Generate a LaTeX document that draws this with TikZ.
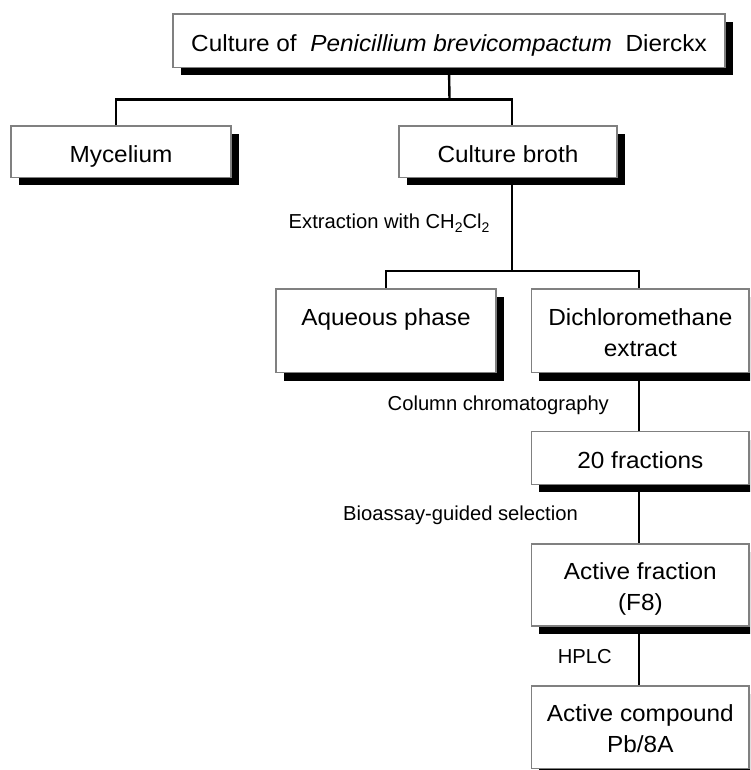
\documentclass[tikz,border=0pt]{standalone}
\usepackage{fontspec}
\setmainfont{Liberation Sans}
\usetikzlibrary{shadows,backgrounds}
\newfontfamily\boxfont[FakeStretch=1.045]{Liberation Sans}
\newcommand{\subtwo}{\raisebox{-4.5pt}{\fontsize{14}{14}\selectfont 2}}
\tikzset{
  box/.style={draw=black!50, line width=1.4pt, fill=white, inner sep=0pt,
    align=center, font=\boxfont\fontsize{23.3}{30.5}\selectfont,
    text height=20.6pt, text depth=0pt,
    drop shadow={shadow xshift=7.5pt, shadow yshift=-7.8pt, fill=black, opacity=1}},
  twoline/.style={text height=50.6pt, text depth=0pt},
  lbl/.style={inner sep=0pt, font=\fontsize{20.2}{24}\selectfont},
  conn/.style={draw=black, line width=2.4pt}
}
\begin{document}
\begin{tikzpicture}[x=1pt,y=-1pt]
\useasboundingbox (0,0) rectangle (750,770);
\clip (0,0) rectangle (750,770);
\node[box, minimum width=552pt, minimum height=53.5pt] (top) at (449,40.75)
  {Culture of \ \textit{Penicillium brevicompactum}\ \ Dierckx};
\node[box, minimum width=220pt, minimum height=51.5pt] (myc) at (121,151.75) {Mycelium};
\node[box, minimum width=218pt, minimum height=51.5pt] (broth) at (508,151.75) {Culture broth};
\node[box, twoline, minimum width=220pt, minimum height=83.7pt] (aq) at (386,330.85) {Aqueous phase\\\mbox{}};
\node[box, twoline, minimum width=217.3pt, minimum height=83.7pt] (dcm) at (640.35,330.85) {Dichloromethane\\extract};
\node[box, minimum width=217.3pt, minimum height=52.6pt] (frac) at (640.35,458) {20 fractions};
\node[box, twoline, minimum width=217.3pt, minimum height=82pt] (act) at (640.35,585) {Active fraction\\(F8)};
\node[box, twoline, minimum width=217.3pt, minimum height=82.3pt] (cmpd) at (640.35,727.15) {Active compound\\Pb/8A};
\node[lbl, anchor=base west] (lext) at (288.5,228.3) {Extraction with CH\subtwo Cl\subtwo};
\node[lbl, anchor=base] (lcol) at (498.3,410) {Column chromatography};
\node[lbl, anchor=base] (lbio) at (460.5,520) {Bioassay-guided selection};
\node[lbl, anchor=base] (lhplc) at (584.8,663.3) {HPLC};
\coordinate (j1) at (449.5,99.5);
\coordinate (j2) at (512,271);
\begin{scope}[on background layer]
\draw[conn] (top.south) -- (j1);
\draw[conn] ([xshift=-5pt]myc.north) |- (j1) -| ([xshift=4pt]broth.north);
\draw[conn] ([xshift=4pt]broth.south) -- (j2);
\draw[conn] (aq.north) |- (j2) -| ([xshift=-1.5pt]dcm.north);
\draw[conn] ([xshift=-1.5pt]dcm.south) -- ([xshift=-1.5pt]frac.north);
\draw[conn] ([xshift=-1.5pt]frac.south) -- ([xshift=-1.5pt]act.north);
\draw[conn] ([xshift=-1.5pt]act.south) -- ([xshift=-1.5pt]cmpd.north);
\end{scope}
\end{tikzpicture}
\end{document}
